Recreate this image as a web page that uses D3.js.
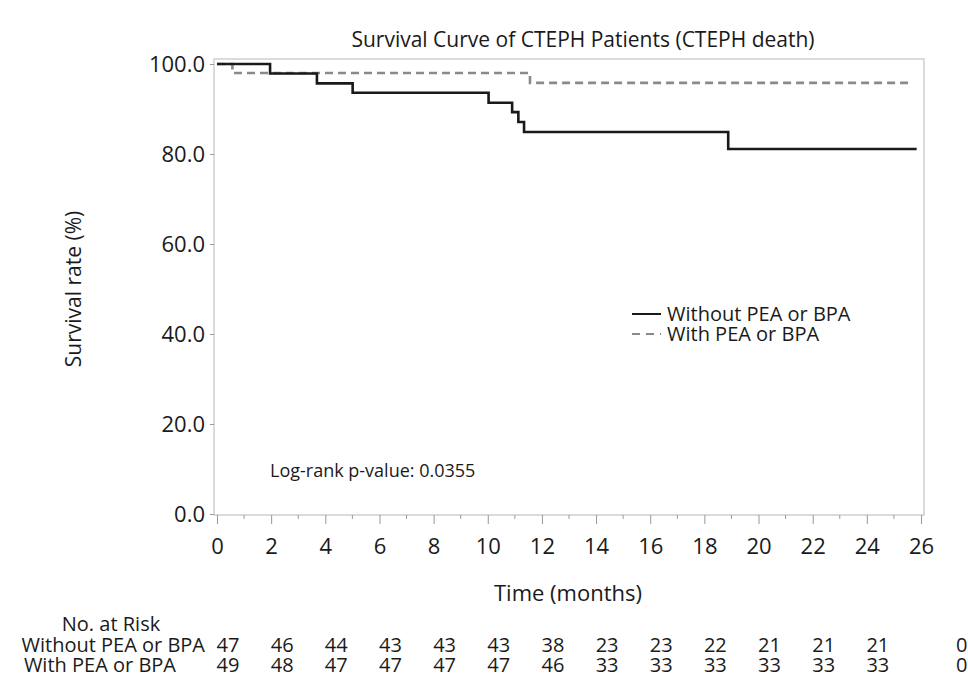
<!DOCTYPE html>
<html>
<head>
<script src="https://d3js.org/d3.v7.min.js"></script>
<style>
  body { margin: 0; background: #fff; }
  text { font-family: "Open Sans", "Noto Sans", sans-serif; fill: #1a1a1a; }
</style>
</head>
<body>
<div id="chart"></div>
<script>
// Kaplan-Meier step data (months, survival %)
const withoutTimes = [0, 1.96, 3.69, 5.01, 10.03, 10.9, 11.13, 11.34, 18.88, 25.84];
const withoutSurv  = [100, 97.9, 95.7, 93.6, 91.4, 89.3, 87.1, 84.9, 81.1, 81.1];
const withTimes = [0, 0.57, 11.56, 25.6];
const withSurv  = [100, 98.0, 95.8, 95.8];

const seriesNames = ["Without PEA or BPA", "With PEA or BPA"];
const xTicks = d3.range(0, 27, 2);
const xMinorTicks = d3.range(1, 26, 2);
const yTicks = [0, 20, 40, 60, 80, 100];

// number at risk table
const riskTimes = [0, 2, 4, 6, 8, 10, 12, 14, 16, 18, 20, 22, 24, 27.1];
const riskWithout = [47, 46, 44, 43, 43, 43, 38, 23, 23, 22, 21, 21, 21, 0];
const riskWith    = [49, 48, 47, 47, 47, 47, 46, 33, 33, 33, 33, 33, 33, 0];

const W = 968, H = 681;
const frame = { left: 214, top: 59, right: 924, bottom: 515 };

const svg = d3.select("#chart").append("svg")
  .attr("width", W).attr("height", H);

const x = d3.scaleLinear().domain([0, 26]).range([217, 921]);
const y = d3.scaleLinear().domain([0, 100]).range([514, 64]);

// frame
svg.append("rect")
  .attr("x", frame.left).attr("y", frame.top)
  .attr("width", frame.right - frame.left)
  .attr("height", frame.bottom - frame.top)
  .attr("fill", "none")
  .attr("stroke", "#c4c4c4")
  .attr("stroke-width", 1.2);

// y axis
const yAxis = svg.append("g")
  .attr("transform", `translate(${frame.left},0)`)
  .call(d3.axisLeft(y).tickValues(yTicks).tickSize(4).tickPadding(5).tickFormat(d3.format(".1f")));
yAxis.select(".domain").remove();
yAxis.selectAll("line").attr("stroke", "#999");
yAxis.selectAll("text").style("font-size", "22px").attr("fill", "#1a1a1a");

// x axis
const xAxis = svg.append("g")
  .attr("transform", `translate(0,${frame.bottom})`)
  .call(d3.axisBottom(x).tickValues(xTicks).tickSize(9).tickPadding(14));
xAxis.select(".domain").remove();
xAxis.selectAll("line").attr("stroke", "#999");
xAxis.selectAll("text").style("font-size", "22px").attr("fill", "#1a1a1a");

svg.append("g").selectAll("line")
  .data(xMinorTicks)
  .join("line")
  .attr("x1", d => x(d)).attr("x2", d => x(d))
  .attr("y1", frame.bottom).attr("y2", frame.bottom + 4)
  .attr("stroke", "#999");

// curves
const line = d3.line()
  .x(d => x(d[0]))
  .y(d => y(d[1]))
  .curve(d3.curveStepAfter);

svg.append("path")
  .datum(d3.zip(withTimes, withSurv))
  .attr("fill", "none")
  .attr("stroke", "#8a8a8a")
  .attr("stroke-width", 2.6)
  .attr("stroke-dasharray", "8,5")
  .attr("d", line);

svg.append("path")
  .datum(d3.zip(withoutTimes, withoutSurv))
  .attr("fill", "none")
  .attr("stroke", "#1a1a1a")
  .attr("stroke-width", 2.6)
  .attr("d", line);

// legend
const legend = svg.append("g").attr("transform", "translate(632,314)");
seriesNames.forEach((name, i) => {
  legend.append("line")
    .attr("x1", 0).attr("x2", 29)
    .attr("y1", i * 20).attr("y2", i * 20)
    .attr("stroke", i === 0 ? "#1a1a1a" : "#8a8a8a")
    .attr("stroke-width", 2)
    .attr("stroke-dasharray", i === 0 ? null : "8,6");
  legend.append("text")
    .attr("x", 35).attr("y", i * 20)
    .attr("dy", "0.35em")
    .style("font-size", "20px")
    .text(name);
});

// titles
svg.append("text")
  .attr("x", 583).attr("y", 40).attr("dy", "0.35em")
  .attr("text-anchor", "middle")
  .style("font-size", "21px")
  .text("Survival Curve of CTEPH Patients (CTEPH death)");

svg.append("text")
  .attr("x", 568).attr("y", 593).attr("dy", "0.35em")
  .attr("text-anchor", "middle")
  .style("font-size", "22px")
  .text("Time (months)");

svg.append("text")
  .attr("transform", "translate(74,289) rotate(-90)")
  .attr("dy", "0.35em")
  .attr("text-anchor", "middle")
  .style("font-size", "21px")
  .text("Survival rate (%)");

svg.append("text")
  .attr("x", 270).attr("y", 471).attr("dy", "0.35em")
  .style("font-size", "18px")
  .text("Log-rank p-value: 0.0355");

// number at risk
svg.append("text")
  .attr("x", 111).attr("y", 624).attr("dy", "0.35em")
  .attr("text-anchor", "middle")
  .style("font-size", "20px")
  .text("No. at Risk");

const riskRows = [riskWithout, riskWith];
const rowY = [645, 665];
const rowLabelX = [205, 176];
riskRows.forEach((row, r) => {
  svg.append("text")
    .attr("x", rowLabelX[r]).attr("y", rowY[r]).attr("dy", "0.35em")
    .attr("text-anchor", "end")
    .style("font-size", "20px")
    .text(seriesNames[r]);
  svg.append("g").selectAll("text")
    .data(row)
    .join("text")
    .attr("x", (d, i) => x(riskTimes[i]) + 11)
    .attr("y", rowY[r]).attr("dy", "0.35em")
    .attr("text-anchor", "middle")
    .style("font-size", "20px")
    .text(d => d);
});
</script>
</body>
</html>
